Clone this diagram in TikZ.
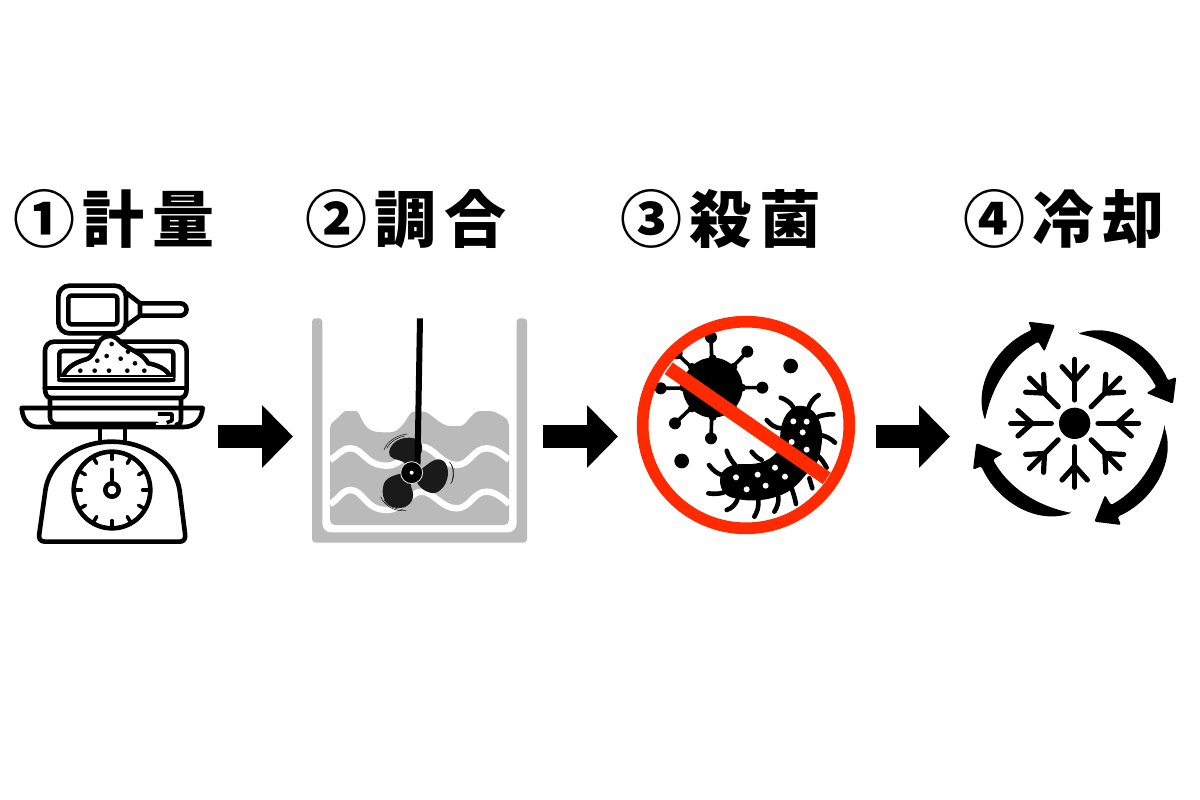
\documentclass[tikz,border=0pt]{standalone}
\usepackage{fontspec}
\usetikzlibrary{arrows.meta,calc}
\newfontfamily\jp{Noto Sans CJK JP Black}[LetterSpace=12]
\definecolor{tankgray}{HTML}{B9BAB9}
\definecolor{prohibit}{HTML}{FF2A00}
\definecolor{blade}{HTML}{1A1A1A}
\tikzset{
  title/.style={anchor=west,inner sep=0pt,font=\jp\fontsize{62}{62}\selectfont,text=black},
  flow/.style={line width=23pt,black,-{Triangle[length=31pt,width=61pt]}},
  ln/.style={draw=black,line width=4.6pt,line join=round,line cap=round},
  leg/.style={draw=black,line width=4.6pt,line cap=round},
  spike/.style={draw=black,line width=3.6pt},
  flake/.style={draw=black,line width=5.2pt,line cap=round},
  wave/.style={draw=white,line width=6.4pt},
  spin/.style={draw=black,line width=.45pt},
}
\begin{document}
\begin{tikzpicture}[x=1pt,y=-1pt]
\useasboundingbox (0,0) rectangle (1200,800);
\fill[white] (0,0) rectangle (1200,800);
% titles
\node[title] (t1) at (13,219) {①計量};
\node[title] (t2) at (305,219) {②調合};
\node[title] (t3) at (620,219) {③殺菌};
\node[title] (t4) at (963,219) {④冷却};
% flow arrows
\coordinate (a1s) at (218,436.5); \coordinate (a1e) at (293,436.5);
\coordinate (a2s) at (543,436.5); \coordinate (a2e) at (618,436.5);
\coordinate (a3s) at (876,436.5); \coordinate (a3e) at (950,436.5);
\draw[flow] (a1s) -- (a1e);
\draw[flow] (a2s) -- (a2e);
\draw[flow] (a3s) -- (a3e);
% ---- scale icon (zoom coordinates)
\begin{scope}[shift={(0,270)},scale=1/3]
\draw[ln,rounded corners=11pt] (175,47) rectangle (378,190);
\draw[ln,rounded corners=3pt] (205,77) rectangle (352,163);
\draw[ln] (381,70) -- (420,100) -- (420,137) -- (381,165);
\draw[ln] (420,100) -- (541,100) arc (-90:90:18.5) -- (420,137);
\draw[ln,rounded corners=3pt,fill=white] (178,330) -- (178,243) -- (520,243) -- (520,330) -- cycle;
\draw[ln,rounded corners=9pt] (135,358) -- (135,215) -- (560,215) -- (560,358);
\draw[ln] (135,354) -- (560,354);
\draw[ln] (135,354) .. controls (135,372) and (140,384) .. (155,384) -- (540,384) .. controls (555,384) and (560,372) .. (560,354);
% powder
\draw[ln,fill=white] (188,322) .. controls (195,300) and (215,280) .. (258,268) .. controls (280,262) and (285,235) .. (300,212) .. controls (315,195) and (340,190) .. (360,215) .. controls (385,240) and (425,245) .. (445,280) .. controls (470,285) and (500,295) .. (512,322) -- cycle;
\fill[white] (180,322) rectangle (518,326);
\draw[ln] (178,330) -- (520,330);
\foreach \p in {(335,222),(384,245),(320,258),(362,266),(292,272),(405,280),(241,302),(284,302),(327,302),(382,302),(433,302)}
  \fill \p circle (7);
% tray
\draw[ln] (65,414) -- (608,414) .. controls (605,450) and (585,471) .. (550,471) -- (115,471) .. controls (85,471) and (68,450) .. (65,414) -- cycle;
\draw[ln] (150,384) -- (150,442) .. controls (150,455) and (160,462) .. (172,462) -- (470,462);
\draw[ln] (543,384) -- (543,450) .. controls (543,458) and (540,462) .. (530,464);
\draw[draw=black,line width=3.6pt,line join=round] (474,432) -- (516,432) -- (516,452) -- (500,458);
\fill[white] (468,458) rectangle (498,465);
% stem + body
\draw[ln] (300,471) -- (300,515);
\draw[ln] (375,471) -- (375,515);
\draw[ln] (336,815) -- (135,815) .. controls (120,815) and (115,805) .. (118,790) -- (135,670) .. controls (145,570) and (240,515) .. (336,515) .. controls (430,515) and (530,570) .. (540,670) -- (555,790) .. controls (558,805) and (552,815) .. (540,815) -- cycle;
\draw[ln] (336,660) circle (115);
\foreach \a in {0,30,...,330}
  \draw[draw=black,line width=3.6pt,line cap=round] ($(336,660)+(\a:112)$) -- ($(336,660)+(\a:92)$);
\draw[ln] (336,600) -- (336,640);
\draw[ln] (336,660) circle (20);
\end{scope}
% ---- mixer icon
\begin{scope}[shift={(290,300)},scale=1/3]
\fill[tankgray,rounded corners=3.5pt]
  (81,55) -- (66,55) -- (66,728) -- (711,728) -- (711,55) -- (680,55) -- (680,660) .. controls (680,685) and (670,697) .. (645,697) -- (130,697) .. controls (108,697) and (97,685) .. (97,660) -- (97,55) -- cycle;
\fill[tankgray,rounded corners=5pt] (120,675) -- (120,370) .. controls (145,355) and (160,333) .. (182,333) .. controls (215,333) and (210,395) .. (285,397) .. controls (340,397) and (355,335) .. (385,335) .. controls (420,335) and (450,378) .. (495,378) .. controls (530,378) and (545,333) .. (585,333) .. controls (615,333) and (640,350) .. (657,360) -- (657,675) -- cycle;
\draw[wave] (120,480) .. controls (145,465) and (155,445) .. (182,445) .. controls (220,445) and (225,497) .. (290,497) .. controls (340,497) and (360,440) .. (395,440) .. controls (430,440) and (455,495) .. (500,495) .. controls (540,495) and (550,445) .. (590,445) .. controls (615,445) and (640,465) .. (657,480);
\draw[wave] (120,612) .. controls (145,600) and (155,570) .. (182,570) .. controls (220,570) and (225,630) .. (290,630) .. controls (340,630) and (360,575) .. (395,575) .. controls (430,575) and (455,625) .. (500,625) .. controls (540,625) and (550,575) .. (590,575) .. controls (615,575) and (640,595) .. (657,612);
% blades
\fill[blade] (365,500) .. controls (395,470) and (405,440) .. (390,425) .. controls (370,405) and (320,410) .. (303,440) .. controls (290,465) and (300,475) .. (325,480) .. controls (345,485) and (345,495) .. (365,500) -- cycle;
\fill[blade] (385,510) .. controls (405,505) and (420,480) .. (445,478) .. controls (470,478) and (478,510) .. (472,535) .. controls (465,565) and (440,585) .. (420,578) .. controls (395,570) and (380,555) .. (375,530) -- cycle;
\fill[blade] (350,515) .. controls (325,525) and (295,525) .. (282,550) .. controls (270,585) and (285,620) .. (320,624) .. controls (355,628) and (375,600) .. (368,575) .. controls (362,560) and (360,545) .. (365,530) -- cycle;
% motion lines
\draw[spin] (282,450) .. controls (290,425) and (320,405) .. (352,402);
\draw[spin] (290,445) .. controls (298,428) and (320,412) .. (345,408);
\draw[spin] (478,485) .. controls (495,505) and (495,530) .. (482,552);
\draw[spin] (484,495) .. controls (492,510) and (490,530) .. (486,545);
\draw[spin] (272,590) .. controls (285,620) and (315,635) .. (348,632);
\draw[spin] (282,600) .. controls (295,620) and (315,628) .. (338,628);
% shaft + hub
\fill[black] (381,55) -- (399,55) -- (391,518) -- (373,518) -- cycle;
\fill[black] (365,518) circle (33);
\draw[draw=white!85!black,line width=.9pt] (365,518) circle (33);
\fill[white] (365,518) circle (6);
\end{scope}
% ---- no-germs icon
\begin{scope}[shift={(620,300)},scale=1/3]
\coordinate (vc) at (278,263);
\foreach \p in {(273,112),(382,155),(427,263),(385,368),(273,415),(165,370),(122,265),(170,160)}{
  \draw[spike] (vc) -- \p;
  \fill \p circle (18);
}
\fill (vc) circle (90);
\foreach \a in {0,45,...,315}
  \fill (vc) ++(\a:88) circle (12);
\fill (512,198) circle (22);
\fill (185,483) circle (22);
% bacteria legs
\draw[leg] (520,322) .. controls (510,305) and (495,298) .. (482,293);
\draw[leg] (565,325) .. controls (572,305) and (580,295) .. (596,285);
\draw[leg] (595,350) .. controls (610,345) and (625,342) .. (640,343);
\draw[leg] (600,405) .. controls (620,408) and (635,418) .. (645,428);
\draw[leg] (590,465) .. controls (605,475) and (612,490) .. (620,503);
\draw[leg] (485,385) .. controls (465,385) and (450,372) .. (440,360);
\draw[leg] (568,535) -- (577,565);
\draw[leg] (345,495) .. controls (335,482) and (325,470) .. (320,452);
\draw[leg] (425,480) .. controls (412,475) and (403,465) .. (395,455);
\draw[leg] (305,525) .. controls (290,520) and (278,510) .. (267,495);
\draw[leg] (310,578) .. controls (295,582) and (280,582) .. (265,580);
\draw[leg] (352,600) .. controls (345,615) and (335,625) .. (320,630);
\draw[leg] (415,600) .. controls (417,620) and (412,635) .. (403,650);
\draw[leg] (475,590) .. controls (477,605) and (472,622) .. (463,635);
\draw[leg] (515,565) .. controls (520,580) and (525,595) .. (528,612);
% bacteria bodies
\fill (300,540) .. controls (300,505) and (335,490) .. (375,492) .. controls (420,495) and (460,480) .. (482,440) .. controls (478,410) and (478,340) .. (530,318) .. controls (585,310) and (610,370) .. (606,420) .. controls (602,470) and (590,500) .. (570,510) .. controls (550,530) and (530,565) .. (490,582) .. controls (440,605) and (380,605) .. (345,595) .. controls (315,590) and (300,570) .. (300,540) -- cycle;
\foreach \p in {(520,364),(560,365),(548,397),(515,426),(560,449),(348,532),(413,524),(465,503),(495,530),(380,568),(437,557)}
  \fill[white] \p circle (9);
% prohibition sign
\draw[draw=white,line width=3pt] (150,208) -- (616,537);
\draw[draw=prohibit,line width=11.7pt] (378,375) circle (310);
\draw[draw=prohibit,line width=14pt] (146,205) -- (620,535);
\end{scope}
% ---- cold icon
\begin{scope}[shift={(950,300)},scale=1/3]
\coordinate (fc) at (374,370);
\fill (fc) circle (47);
\foreach \a in {0,45,...,315}{
  \begin{scope}[shift={(fc)},rotate=\a]
  \draw[flake] (70,0) -- (192,0);
  \draw[flake] (170,38) -- (128,0) -- (170,-38);
  \end{scope}
}
\foreach \k in {0,1,2,3}{
  \begin{scope}[shift={(fc)},rotate=-90*\k]
  \fill[rounded corners=2pt] (-269,-10) .. controls (-305,-120) and (-230,-235) .. (-129,-280) -- (-139,-305) -- (-59,-295) -- (-91,-215) -- (-109,-245) .. controls (-190,-200) and (-245,-120) .. (-269,-10) -- cycle;
  \end{scope}
}
\end{scope}
\end{tikzpicture}
\end{document}
